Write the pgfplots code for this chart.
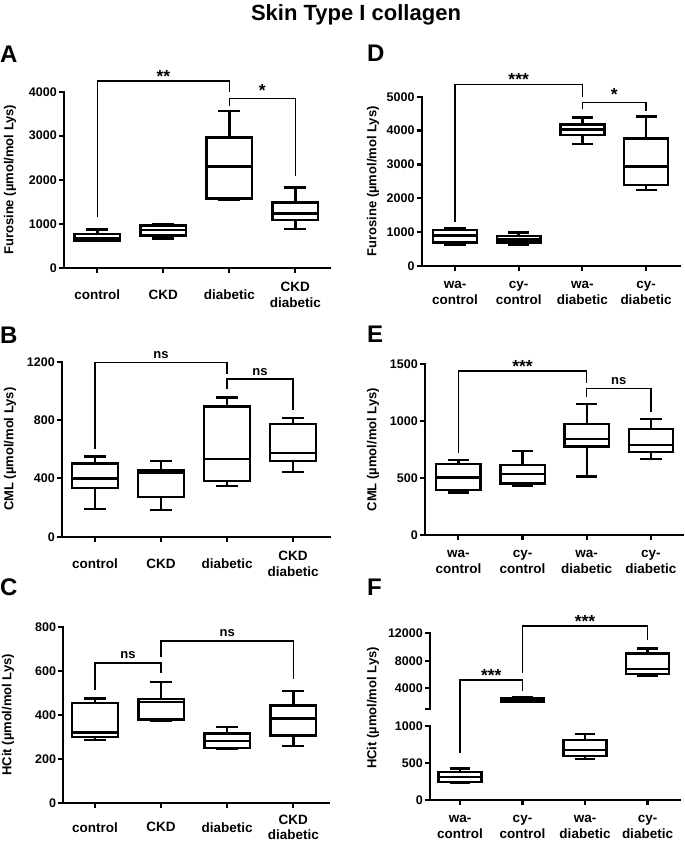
\documentclass[border=0pt]{standalone}
\usepackage{fontspec}
\setmainfont{Liberation Sans}
\usepackage{pgfplots}
\pgfplotsset{compat=1.18}
\pgfplotsset{
  gp/.style={
    scale only axis,
    anchor=south west,
    axis x line*=bottom,
    axis y line*=left,
    axis line style={line width=2.4pt, line cap=rect},
    tick align=outside,
    major tick length=5pt,
    tick style={black, line width=2.2pt},
    xtick={0,1,2,3},
    clip=false,
    scaled y ticks=false,
    /pgf/number format/assume math mode=true,
    /pgf/number format/1000 sep={},
    yticklabel style={font=\fontsize{12.5}{14}\selectfont\bfseries, inner sep=2pt},
    xticklabel style={font=\fontsize{13.5}{15.5}\selectfont\bfseries, align=center, anchor=center, inner sep=1pt, yshift=-22pt},
    ylabel style={font=\fontsize{13}{15}\selectfont\bfseries, anchor=center},
  },
  bx/.style={draw=black, line width=2.4pt, solid, mark=none, line join=miter},
  br/.style={black, line width=1.5pt, mark=none, line join=miter},
}
\tikzset{
  sig/.style={anchor=base, yshift=4pt, font=\fontsize{13}{15}\selectfont\bfseries},
  stars/.style={anchor=base, yshift=-1pt, font=\fontsize{17.5}{18}\selectfont\bfseries},
  star/.style={anchor=base, yshift=2pt, font=\fontsize{17.5}{18}\selectfont\bfseries},
}
% box: position, min, q1, median, q3, max
\newcommand{\bp}[6]{%
  \pgfmathsetmacro\xl{#1-0.345}\pgfmathsetmacro\xr{#1+0.345}%
  \pgfmathsetmacro\wl{#1-0.165}\pgfmathsetmacro\wr{#1+0.165}%
  \addplot[bx] coordinates {(\xl,#3) (\xr,#3) (\xr,#5) (\xl,#5)} -- cycle;
  \addplot[bx] coordinates {(\xl,#4) (\xr,#4)};
  \addplot[bx] coordinates {(#1,#5) (#1,#6)};
  \addplot[bx] coordinates {(#1,#3) (#1,#2)};
  \addplot[bx] coordinates {(\wl,#6) (\wr,#6)};
  \addplot[bx] coordinates {(\wl,#2) (\wr,#2)};
}
\begin{document}
\begin{tikzpicture}
\useasboundingbox (0,0) rectangle (685pt,-843pt);
\node[anchor=base, font=\fontsize{22}{24}\selectfont\bfseries] at (356pt,-21pt) {Skin Type I collagen};
\node[anchor=base west, inner sep=0pt, font=\fontsize{24}{26}\selectfont\bfseries] at (0pt,-63pt) {A};
\node[anchor=base west, inner sep=0pt, font=\fontsize{24}{26}\selectfont\bfseries] at (367pt,-62pt) {D};
\node[anchor=base west, inner sep=0pt, font=\fontsize{24}{26}\selectfont\bfseries] at (0pt,-343pt) {B};
\node[anchor=base west, inner sep=0pt, font=\fontsize{24}{26}\selectfont\bfseries] at (367pt,-342pt) {E};
\node[anchor=base west, inner sep=0pt, font=\fontsize{24}{26}\selectfont\bfseries] at (0pt,-595pt) {C};
\node[anchor=base west, inner sep=0pt, font=\fontsize{24}{26}\selectfont\bfseries] at (367pt,-595pt) {F};

% ---------- A ----------
\begin{axis}[gp, at={(64pt,-267.7pt)}, width=266pt, height=176pt,
  xmin=-0.505, xmax=3.525, ymin=0, ymax=4000, ytick={0,1000,2000,3000,4000},
  xticklabels={control,CKD,diabetic,{CKD\\diabetic}},
  ylabel={Furosine (µmol/mol Lys)}, ylabel style={at={(axis description cs:-0.203,0.5)}}]
\bp{0}{610}{620}{680}{760}{870}
\bp{1}{667}{728}{857}{955}{993}
\bp{2}{1538}{1576}{2296}{2955}{3561}
\bp{3}{880}{1083}{1235}{1485}{1826}
\addplot[br] coordinates {(0,1146) (0,4243) (2,4243) (2,3986)};
\addplot[br] coordinates {(2,3682) (2,3850) (3,3850) (3,2091)};
\node[stars] at (axis cs:1,4243) {**};
\node[star] at (axis cs:2.5,3850) {*};
\end{axis}

% ---------- D ----------
\begin{axis}[gp, at={(421.7pt,-266pt)}, width=258.3pt, height=169.3pt,
  xmin=-0.523, xmax=3.534, ymin=0, ymax=5000, ytick={0,1000,2000,3000,4000,5000},
  xticklabels={{wa-\\control},{cy-\\control},{wa-\\diabetic},{cy-\\diabetic}},
  ylabel={Furosine (µmol/mol Lys)}, ylabel style={at={(axis description cs:-0.1885,0.5)}}]
\bp{0}{620}{689}{896}{1063}{1112}
\bp{1}{630}{699}{787}{886}{994}
\bp{2}{3612}{3868}{4035}{4183}{4380}
\bp{3}{2244}{2392}{2933}{3770}{4410}
\addplot[br] coordinates {(0,1308) (0,5366) (2,5366) (2,5000)};
\addplot[br] coordinates {(2,4628) (2,4834) (3,4834) (3,4587)};
\node[stars] at (axis cs:1,5366) {***};
\node[star] at (axis cs:2.5,4834) {*};
\end{axis}

% ---------- B ----------
\begin{axis}[gp, at={(62pt,-536.7pt)}, width=268pt, height=175pt,
  xmin=-0.5, xmax=3.56, ymin=0, ymax=1200, ytick={0,400,800,1200},
  xticklabels={control,CKD,diabetic,{CKD\\diabetic}},
  ylabel={CML (µmol/mol Lys)}, ylabel style={at={(axis description cs:-0.194,0.5)}}]
\bp{0}{188}{334}{400}{501}{549}
\bp{1}{183}{274}{435}{453}{519}
\bp{2}{346}{380}{533}{893}{954}
\bp{3}{444}{521}{574}{772}{813}
\addplot[br] coordinates {(0,603) (0,1195) (2,1195) (2,1116)};
\addplot[br] coordinates {(2,1011) (2,1081) (3,1081) (3,870)};
\node[sig] at (axis cs:1,1195) {ns};
\node[sig] at (axis cs:2.5,1081) {ns};
\end{axis}

% ---------- E ----------
\begin{axis}[gp, at={(425pt,-535pt)}, width=258pt, height=170.7pt,
  xmin=-0.52, xmax=3.50, ymin=0, ymax=1500, ytick={0,500,1000,1500},
  xticklabels={{wa-\\control},{cy-\\control},{wa-\\diabetic},{cy-\\diabetic}},
  ylabel={CML (µmol/mol Lys)}, ylabel style={at={(axis description cs:-0.2016,0.5)}}]
\bp{0}{372}{395}{507}{624}{659}
\bp{1}{431}{454}{536}{615}{738}
\bp{2}{513}{776}{841}{973}{1151}
\bp{3}{668}{732}{791}{931}{1017}
\addplot[br] coordinates {(0,723) (0,1441) (2,1441) (2,1333)};
\addplot[br] coordinates {(2,1215) (2,1289) (3,1289) (3,1078)};
\node[stars] at (axis cs:1,1441) {***};
\node[sig] at (axis cs:2.5,1289) {ns};
\end{axis}

% ---------- C ----------
\begin{axis}[gp, at={(63.3pt,-802.7pt)}, width=265.7pt, height=176pt,
  xmin=-0.48, xmax=3.54, ymin=0, ymax=800, ytick={0,200,400,600,800},
  xticklabels={control,CKD,diabetic,{CKD\\diabetic}},
  xticklabel style={yshift=2.5pt},
  ylabel={HCit (µmol/mol Lys)}, ylabel style={at={(axis description cs:-0.208,0.5)}}]
\bp{0}{285}{300}{320}{452}{474}
\bp{1}{371}{379}{459}{471}{550}
\bp{2}{245}{248}{280}{315}{343}
\bp{3}{258}{305}{382}{441}{509}
\addplot[br] coordinates {(0,512) (0,636) (1,636) (1,588)};
\addplot[br] coordinates {(1,664) (1,736) (3,736) (3,561)};
\node[sig] at (axis cs:0.5,636) {ns};
\node[sig] at (axis cs:2,736) {ns};
\end{axis}

% ---------- F (lower) ----------
\begin{axis}[gp, at={(430pt,-800pt)}, width=250pt, height=74pt,
  xmin=-0.48, xmax=3.52, ymin=0, ymax=1000, ytick={0,500,1000},
  xticklabels={{wa-\\control},{cy-\\control},{wa-\\diabetic},{cy-\\diabetic}},
  ylabel={HCit (µmol/mol Lys)}, ylabel style={at={(axis description cs:-0.228,1.243)}}]
\bp{0}{234}{243}{307}{382}{428}
\bp{2}{558}{595}{676}{811}{892}
\end{axis}
% ---------- F (upper) ----------
\begin{axis}[gp, at={(430pt,-709pt)}, width=250pt, height=75.7pt,
  xmin=-0.48, xmax=3.52, ymin=1000, ymax=12000, axis x line=none,
  ytick={1000,4000,8000,12000}, yticklabels={,4000,8000,12000}]
\bp{1}{2000}{2100}{2300}{2550}{2700}
\bp{3}{5795}{6086}{6812}{9094}{9820}
\addplot[br] coordinates {(0,-5452) (0,5214) (1,5214) (1,3659)};
\addplot[br] coordinates {(1,6275) (1,13060) (3,13060) (3,11026)};
\node[stars] at (axis cs:0.5,5214) {***};
\node[stars] at (axis cs:2,13060) {***};
\end{axis}
\end{tikzpicture}
\end{document}
